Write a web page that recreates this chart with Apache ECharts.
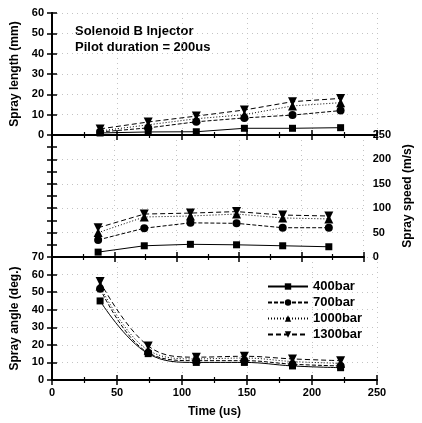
<!DOCTYPE html>
<html>
<head>
<meta charset="utf-8">
<script src="https://cdn.jsdelivr.net/npm/echarts@6/dist/echarts.min.js"></script>
<style>
html,body{margin:0;padding:0;background:#fff;}
#c{width:422px;height:423px;}
</style>
</head>
<body>
<div id="c"></div>
<script>
// ---- data ----
const timeUs = [37, 74, 111, 148, 185, 222];
const seriesNames = ['400bar', '700bar', '1000bar', '1300bar'];

const length400  = [1.0, 1.5, 1.6, 3.3, 3.3, 3.6];
const length700  = [1.5, 3.5, 6.5, 8.4, 9.8, 12.0];
const length1000 = [2.0, 5.0, 8.0, 10.0, 14.3, 15.9];
const length1300 = [3.0, 6.4, 9.3, 12.3, 16.4, 18.0];

const speed400  = [10, 23, 26, 25, 23, 21];
const speed700  = [35, 59, 70, 69, 60, 60];
const speed1000 = [50, 82, 84, 88, 80, 78];
const speed1300 = [60, 88, 90, 93, 86, 84];

const angle400  = [45, 15, 10, 10, 8, 7];
const angle700  = [52, 15.5, 11, 11, 9, 8];
const angle1000 = [53.5, 17, 12, 12.5, 10.5, 9.5];
const angle1300 = [56, 19.4, 13, 13.5, 12, 11];

const xTicks = [0, 50, 100, 150, 200, 250];
const lengthTicks = [0, 10, 20, 30, 40, 50, 60];
const speedTicks = [0, 50, 100, 150, 200, 250];
const angleTicks = [0, 10, 20, 30, 40, 50, 60, 70];

// ---- styles ----
const styleOf = {
  '400bar':  {symbol: 'rect', rot: 0, type: 'solid', size: 7},
  '700bar':  {symbol: 'circle', rot: 0, type: [4, 2], size: 8},
  '1000bar': {symbol: 'triangle', rot: 0, type: [1, 2], size: 9},
  '1300bar': {symbol: 'triangle', rot: 180, type: [5, 3], size: 9}
};

const panels = [
  {data: [length400, length700, length1000, length1300], smooth: false},
  {data: [speed400, speed700, speed1000, speed1300], smooth: false},
  {data: [angle400, angle700, angle1000, angle1300], smooth: 0.4}
];

const font = 'Liberation Sans, Arial, sans-serif';
const grids = [
  {left: 52, top: 13, width: 325, height: 122},
  {left: 52, top: 135, width: 325, height: 122},
  {left: 52, top: 257, width: 325, height: 123}
];

const axisLine = {show: true, lineStyle: {color: '#000', width: 2}};
const gridSplit = {show: true, lineStyle: {color: '#c4c4c4', type: [1, 4], width: 1}};

const xAxes = [];
for (let g = 0; g < 3; g++) {
  // bottom
  xAxes.push({
    type: 'value', gridIndex: g, position: 'bottom', min: xTicks[0], max: xTicks[xTicks.length - 1], interval: 50,
    axisLine: axisLine,
    axisTick: {show: true, inside: true, length: 5, lineStyle: {color: '#000', width: 1.5}},
    minorTick: {show: true, splitNumber: 2, length: 3, lineStyle: {color: '#000', width: 1.2}},
    axisLabel: {show: g === 2, color: '#000', fontSize: 11, fontWeight: 'bold', fontFamily: font, margin: 7},
    splitLine: gridSplit,
    name: g === 2 ? 'Time (us)' : '', nameLocation: 'middle', nameGap: 26,
    nameTextStyle: {color: '#000', fontSize: 12, fontWeight: 'bold', fontFamily: font}
  });
  // top
  xAxes.push({
    type: 'value', gridIndex: g, position: 'top', min: 0, max: 250, interval: 50,
    axisLine: axisLine,
    axisTick: {show: true, inside: true, length: 5, lineStyle: {color: '#000', width: 1.5}},
    minorTick: {show: true, splitNumber: 2, length: 3, lineStyle: {color: '#000', width: 1.2}},
    axisLabel: {show: false}, splitLine: {show: false}
  });
}

const nameStyle = {color: '#000', fontSize: 12, fontWeight: 'bold', fontFamily: font};
const labelStyle = {color: '#000', fontSize: 11, fontWeight: 'bold', fontFamily: font, margin: 8};
const labelStyleR = {color: '#000', fontSize: 11, fontWeight: 'bold', fontFamily: font, margin: 9};
const tick = {show: true, inside: true, length: 5, lineStyle: {color: '#000', width: 1.5}};

const yAxes = [
  // panel 0
  {type: 'value', gridIndex: 0, position: 'left', min: 0, max: 60, interval: 10,
   axisLine: axisLine, axisTick: tick, axisLabel: labelStyle, splitLine: gridSplit,
   name: 'Spray length (mm)', nameLocation: 'middle', nameGap: 28, nameTextStyle: nameStyle},
  {type: 'value', gridIndex: 0, position: 'right', min: 0, max: 60, interval: 10,
   axisLine: axisLine, axisTick: tick, axisLabel: {show: false}, splitLine: {show: false}},
  // panel 1
  {type: 'value', gridIndex: 1, position: 'left', min: 0, max: 250, interval: 50,
   axisLine: axisLine, axisTick: tick, minorTick: {show: true, splitNumber: 2, length: 5, lineStyle: {color: '#000', width: 1.5}},
   axisLabel: {show: false}, splitLine: gridSplit},
  {type: 'value', gridIndex: 1, position: 'right', min: 0, max: 250, interval: 50,
   axisLine: axisLine, axisTick: tick, minorTick: {show: true, splitNumber: 2, length: 5, lineStyle: {color: '#000', width: 1.5}},
   axisLabel: labelStyleR, splitLine: {show: false},
   name: 'Spray speed (m/s)', nameLocation: 'middle', nameGap: 31, nameRotate: 90, nameTextStyle: nameStyle},
  // panel 2
  {type: 'value', gridIndex: 2, position: 'left', min: 0, max: 70, interval: 10,
   axisLine: axisLine, axisTick: tick, axisLabel: labelStyle, splitLine: gridSplit,
   name: 'Spray angle (deg.)', nameLocation: 'middle', nameGap: 28, nameTextStyle: nameStyle},
  {type: 'value', gridIndex: 2, position: 'right', min: 0, max: 70, interval: 10,
   axisLine: axisLine, axisTick: tick, axisLabel: {show: false}, splitLine: {show: false}}
];

// which y axis each panel's data uses
const yIndexOfPanel = [0, 3, 4];

const series = [];
panels.forEach((p, pi) => {
  p.data.forEach((vals, si) => {
    const nm = seriesNames[si];
    const st = styleOf[nm];
    series.push({
      type: 'line', name: nm,
      xAxisIndex: pi * 2, yAxisIndex: yIndexOfPanel[pi],
      data: timeUs.map((t, i) => [t, vals[i]]),
      smooth: p.smooth,
      symbol: st.symbol, symbolRotate: st.rot, symbolSize: st.size,
      showSymbol: true,
      itemStyle: {color: '#000'},
      lineStyle: {color: '#000', width: 1, type: st.type},
      z: 5 + si,
      animation: false
    });
  });
});

const chart = echarts.init(document.getElementById('c'), null, {renderer: 'canvas'});
chart.setOption({
  animation: false,
  backgroundColor: '#fff',
  grid: grids,
  xAxis: xAxes,
  yAxis: yAxes,
  series: series,
  legend: {
    data: seriesNames,
    orient: 'vertical', left: 262, top: 275,
    itemWidth: 40, itemHeight: 8, itemGap: 3,
    textStyle: {color: '#000', fontSize: 13, fontWeight: 'bold', fontFamily: font},
    backgroundColor: 'transparent'
  },
  graphic: [
    {type: 'text', left: 75, top: 25, style: {text: 'Solenoid B Injector', fill: '#000', font: 'bold 13px Liberation Sans, Arial, sans-serif'}},
    {type: 'text', left: 75, top: 41, style: {text: 'Pilot duration = 200us', fill: '#000', font: 'bold 13px Liberation Sans, Arial, sans-serif'}}
  ]
});
</script>
</body>
</html>
